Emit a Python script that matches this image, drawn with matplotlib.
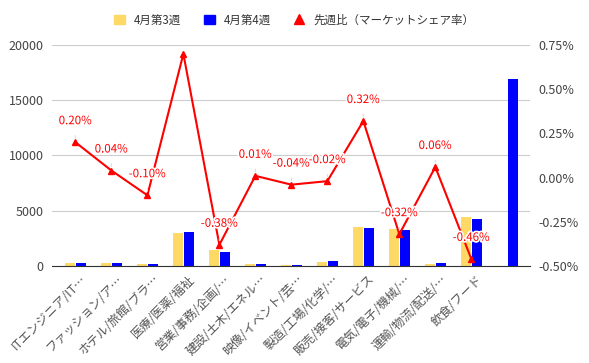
import matplotlib
matplotlib.use("Agg")
import matplotlib.pyplot as plt
import numpy as np
from matplotlib.lines import Line2D
from matplotlib.patches import Patch
from matplotlib.transforms import ScaledTranslation
import matplotlib.patheffects as pe

plt.rcParams['font.family'] = ['Noto Sans CJK JP', 'DejaVu Sans']

categories = ["ITエンジニア/IT…", "ファッション/ア…", "ホテル/旅館/ブラ…", "医療/医薬/福祉",
              "営業/事務/企画/…", "建設/土木/エネル…", "映像/イベント/芸…", "製造/工場/化学/…",
              "販売/接客/サービス", "電気/電子/機械/…", "運輸/物流/配送/…", "飲食/フード", ""]
week3 = [260, 250, 180, 2960, 1450, 170, 60, 400, 3560, 3370, 180, 4400, 0]
week4 = [280, 260, 180, 3080, 1250, 170, 80, 420, 3440, 3260, 240, 4250, 16900]
share_change = [0.20, 0.04, -0.10, 0.70, -0.38, 0.01, -0.04, -0.02, 0.32, -0.32, 0.06, -0.46]
share_labels = ["0.20%", "0.04%", "-0.10%", None, "-0.38%", "0.01%", "-0.04%", "-0.02%",
                "0.32%", "-0.32%", "0.06%", "-0.46%"]
series_names = ["4月第3週", "4月第4週", "先週比（マーケットシェア率）"]
left_ticks = [0, 5000, 10000, 15000, 20000]
right_ticks = [-0.50, -0.25, 0.00, 0.25, 0.50, 0.75]

c_y = "#FFD966"
c_b = "#0000FF"
c_r = "#FF0000"
tick_c = "#444444"

fig = plt.figure(figsize=(5.89, 3.63), dpi=100)
ax = fig.add_axes([52/589, 1-266/363, (530-52)/589, (266-45)/363])
x = np.arange(len(categories))
w = 0.28
ax.bar(x - 0.16, week3, width=w, color=c_y, zorder=2)
ax.bar(x + 0.16, week4, width=w, color=c_b, zorder=2)
ax.set_xlim(-0.65, len(categories) - 1 + 0.63)
ax.set_ylim(0, 20000)
ax.set_yticks(left_ticks)
ax.set_yticklabels([str(t) for t in left_ticks], fontsize=9, color=tick_c)
ax.yaxis.grid(True, color="#cccccc", lw=0.8, zorder=0)
ax.set_axisbelow(True)
for s in ["top", "right", "left"]:
    ax.spines[s].set_visible(False)
ax.spines["bottom"].set_color("#333333")
ax.tick_params(axis="y", length=0, pad=6)
ax.tick_params(axis="x", length=0, pad=5)
ax.set_xticks(x)
ax.set_xticklabels(categories, rotation=45, ha="right", rotation_mode="anchor",
                   fontsize=8.8, color="#555555")
off = ScaledTranslation(5/100, 0, fig.dpi_scale_trans)
for lbl in ax.get_xticklabels():
    lbl.set_transform(lbl.get_transform() + off)

ax2 = ax.twinx()
ax2.set_ylim(-0.50, 0.75)
ax2.set_yticks(right_ticks)
ax2.set_yticklabels([f"{t:.2f}%" for t in right_ticks], fontsize=9, color=tick_c)
ax2.tick_params(axis="y", length=0, pad=6)
for s in ["top", "right", "left", "bottom"]:
    ax2.spines[s].set_visible(False)
xl = x[:len(share_change)]
ax2.plot(xl, share_change, color=c_r, lw=1.5, marker="^", markersize=4.5, zorder=5)
for xi, v, lab in zip(xl, share_change, share_labels):
    if lab is None:
        continue
    ax2.annotate(lab, xy=(xi, v), xytext=(0, 15.5), textcoords="offset points",
                 ha="center", va="center", fontsize=8.3, color=c_r, zorder=6,
                 path_effects=[pe.withStroke(linewidth=2.5, foreground="white")],
                 arrowprops=dict(arrowstyle="-", color="#dddddd", lw=0.8,
                                 shrinkA=4, shrinkB=3))

handles = [Patch(color=c_y), Patch(color=c_b),
           Line2D([], [], color=c_r, marker="^", lw=0, markersize=7)]
fig.legend(handles, series_names, loc="center", bbox_to_anchor=(0.5, 1-20/363),
           ncol=3, frameon=False, fontsize=8.3, handlelength=0.9, handleheight=0.9,
           columnspacing=2.0, handletextpad=0.8, labelcolor="#333333")

fig.savefig("out.png", dpi=100)
